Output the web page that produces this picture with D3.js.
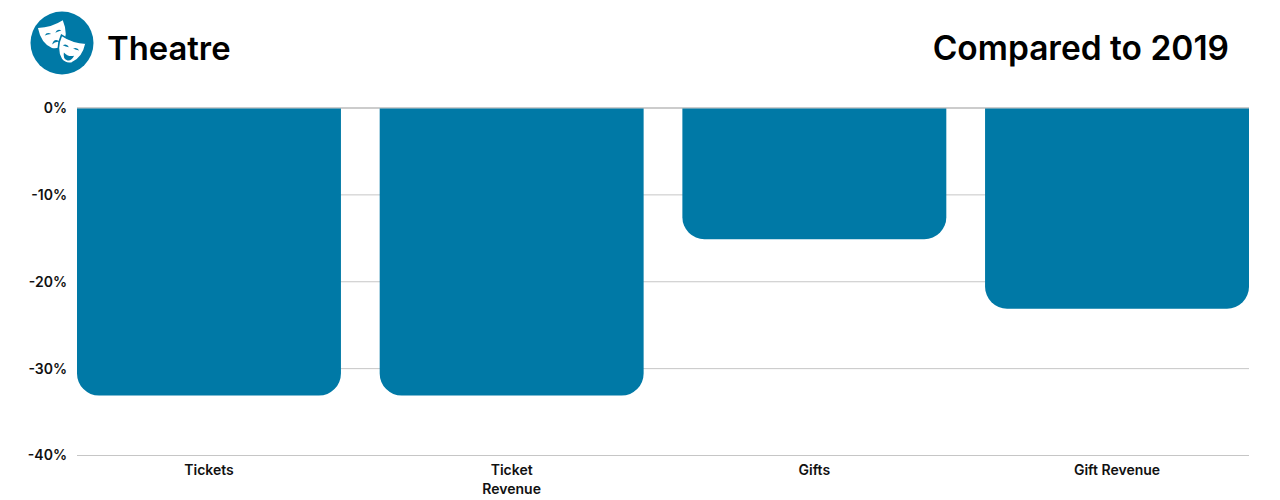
<!DOCTYPE html>
<html>
<head>
<meta charset="utf-8">
<script src="https://cdn.jsdelivr.net/npm/d3@7"></script>
<style>
  html, body { margin: 0; padding: 0; background: #fff; overflow: hidden; }
  text { font-family: Inter, "Noto Sans", sans-serif; fill: #111; }
  .title { font-size: 33.5px; font-weight: 600; fill: #000; }
  .tick text { font-size: 14px; font-weight: 600; }
</style>
</head>
<body>
<div id="chart"></div>
<script>
var categories = [["Tickets"], ["Ticket", "Revenue"], ["Gifts"], ["Gift Revenue"]];
var values = [-33.1, -33.1, -15.1, -23.1];
var yTicks = [0, -10, -20, -30, -40];

var svgWidth = 1280;
var svgHeight = 500;
var blue = "#0079a6";

var svg = d3.select("#chart")
  .append("svg")
  .attr("width", svgWidth)
  .attr("height", svgHeight);

// scales
var xScale = d3.scaleBand()
  .domain(categories.map(d => d.join(" ")))
  .range([77, 1249])
  .paddingInner(0.128)
  .paddingOuter(0);

var yScale = d3.scaleLinear()
  .domain([0, -40])
  .range([108, 455.5]);

// gridlines
svg.selectAll(".grid")
  .data(yTicks)
  .enter()
  .append("line")
  .attr("class", "grid")
  .attr("x1", 77)
  .attr("x2", 1249)
  .attr("y1", d => yScale(d))
  .attr("y2", d => yScale(d))
  .attr("stroke", d => d === 0 ? "#999" : "#c6c6c6")
  .attr("stroke-width", 1);

// axes
var yAxis = d3.axisLeft(yScale)
  .tickValues(yTicks)
  .tickSize(0)
  .tickPadding(10)
  .tickFormat(d => d + "%");

svg.append("g")
  .attr("transform", "translate(77, 0)")
  .call(yAxis)
  .call(g => g.select(".domain").remove());

var xAxis = d3.axisBottom(xScale).tickSize(0).tickPadding(0).tickFormat("");

var xAxisGroup = svg.append("g")
  .attr("transform", "translate(0, 455.5)")
  .call(xAxis)
  .call(g => g.select(".domain").remove());

xAxisGroup.selectAll(".tick").each(function(d, i) {
  var label = d3.select(this).select("text").attr("y", 0).attr("dy", null);
  categories[i].forEach(function(line, j) {
    label.append("tspan")
      .attr("x", 0)
      .attr("y", 19 + j * 19)
      .text(line);
  });
});

// bars, square top and rounded bottom
function barPath(d, i) {
  var name = categories[i].join(" ");
  var x0 = xScale(name);
  var x1 = x0 + xScale.bandwidth();
  var top = yScale(0) + 0.5;
  var bottom = yScale(d);
  var p = d3.path();
  var r = 22;
  p.moveTo(x0, top);
  p.lineTo(x1, top);
  p.lineTo(x1, bottom - r);
  p.arcTo(x1, bottom, x1 - r, bottom, r);
  p.lineTo(x0 + r, bottom);
  p.arcTo(x0, bottom, x0, bottom - r, r);
  p.closePath();
  return p.toString();
}

svg.selectAll(".bar")
  .data(values)
  .enter()
  .append("path")
  .attr("class", "bar")
  .attr("d", barPath)
  .attr("fill", blue);

// header
svg.append("text")
  .attr("class", "title")
  .attr("x", 107)
  .attr("y", 60)
  .style("font-size", "32.8px")
  .text("Theatre");

svg.append("text")
  .attr("class", "title")
  .attr("x", 1229)
  .attr("y", 60)
  .attr("text-anchor", "end")
  .text("Compared to 2019");

// masks icon
var icon = svg.append("g").attr("transform", "translate(62, 43)");
icon.append("circle").attr("r", 31.5).attr("fill", blue);

var maskShape = "M-12,-11.5 Q0,-8 12,-11.5 Q13.5,3 5,10 Q0,13 -5,10 Q-13.5,3 -12,-11.5Z";

var sad = icon.append("g").attr("transform", "translate(-8, -7) rotate(-17) scale(1.08)");
sad.append("path").attr("d", maskShape).attr("fill", "#fff");
sad.append("path").attr("d", "M-8,-3 Q-5,-6 -2,-2.5 Q-5,-3 -8,-3Z").attr("fill", blue);
sad.append("path").attr("d", "M2,-2.5 Q5,-6 8,-3 Q5,-3 2,-2.5Z").attr("fill", blue);
sad.append("path").attr("d", "M-4,7 Q0,1 4,7 Q0,4.5 -4,7Z").attr("fill", blue);

var happy = icon.append("g").attr("transform", "translate(8, 8) rotate(18) scale(1.08)");
happy.append("path")
  .attr("d", maskShape)
  .attr("fill", "#fff")
  .attr("stroke", blue)
  .attr("stroke-width", 1.5);
happy.append("path").attr("d", "M-8,-3 Q-5,-6 -2,-3 Q-5,-2.5 -8,-3Z").attr("fill", blue);
happy.append("path").attr("d", "M2,-3 Q5,-6 8,-3 Q5,-2.5 2,-3Z").attr("fill", blue);
happy.append("path").attr("d", "M-5,3 Q0,6 5,3 Q4,9 0,9 Q-4,9 -5,3Z").attr("fill", blue);
</script>
</body>
</html>
